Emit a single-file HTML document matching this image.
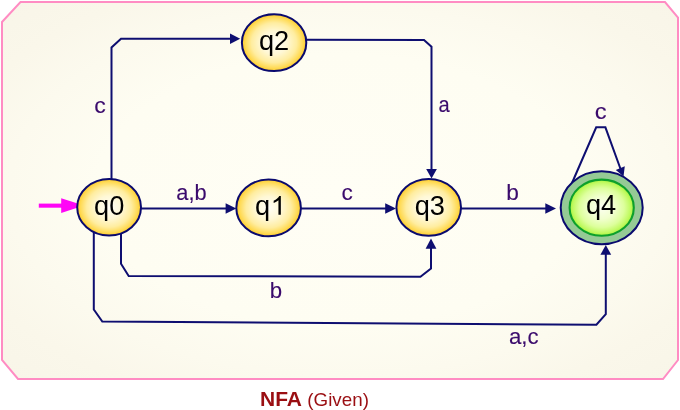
<!DOCTYPE html>
<html>
<head>
<meta charset="utf-8">
<style>
html,body{margin:0;padding:0;background:#ffffff;}
body{width:680px;height:410px;overflow:hidden;position:relative;font-family:"Liberation Sans",sans-serif;}
svg{position:absolute;left:0;top:0;display:block;will-change:transform;opacity:0.999;}
text{font-family:"Liberation Sans",sans-serif;}
.lbl{font-size:21.6px;fill:#3a0a6c;stroke:#3a0a6c;stroke-width:0.12px;}
.st{font-size:27.7px;fill:#000000;}
</style>
</head>
<body>
<svg width="680" height="410" viewBox="0 0 680 410">
  <defs>
    <radialGradient id="bg" cx="0.5" cy="0.5" r="0.72">
      <stop offset="0" stop-color="#fffef5"/>
      <stop offset="0.5" stop-color="#fefdf2"/>
      <stop offset="0.68" stop-color="#fcfaee"/>
      <stop offset="0.82" stop-color="#faf7ea"/>
      <stop offset="1" stop-color="#f8f5e8"/>
    </radialGradient>
    <radialGradient id="gy" cx="0.5" cy="0.5" r="0.5">
      <stop offset="0" stop-color="#fffef6"/>
      <stop offset="0.4" stop-color="#fff8d6"/>
      <stop offset="0.7" stop-color="#ffeda0"/>
      <stop offset="0.9" stop-color="#ffda54"/>
      <stop offset="1" stop-color="#fdca28"/>
    </radialGradient>
    <radialGradient id="gg" cx="0.5" cy="0.5" r="0.5">
      <stop offset="0" stop-color="#fcfff0"/>
      <stop offset="0.4" stop-color="#f1ffcf"/>
      <stop offset="0.7" stop-color="#ddff9c"/>
      <stop offset="0.9" stop-color="#c0fa60"/>
      <stop offset="1" stop-color="#a8f33a"/>
    </radialGradient>
  </defs>

  <!-- frame -->
  <polygon points="2,22 20.5,2 665,2 678,17.5 678,360 663,379 18,379 2,360" fill="url(#bg)" stroke="#ff8cc3" stroke-width="2" stroke-linejoin="miter"/>

  <!-- edges -->
  <g fill="none" stroke="#0e0e70" stroke-width="2" stroke-linejoin="miter">
    <!-- q0 -> q2 -->
    <polyline points="111.5,182 111.5,47.5 121,38.7 231,38.7"/>
    <!-- q2 -> q3 -->
    <polyline points="306,39.8 424,40 431.5,46.7 431.5,170"/>
    <!-- q0 -> q1 -->
    <line x1="141" y1="208.5" x2="226" y2="208.5"/>
    <!-- q1 -> q3 -->
    <line x1="301" y1="208.5" x2="386" y2="208.5"/>
    <!-- q3 -> q4 -->
    <line x1="461" y1="208.4" x2="546" y2="208.4"/>
    <!-- q0 -> q3 (b) -->
    <polyline points="121,232 121,263.8 128.7,276 420.4,276.8 431,268.6 431,248"/>
    <!-- q0 -> q4 (a,c) -->
    <polyline points="93.8,228 93.8,309.5 102.3,321.5 596.4,324.7 605.8,314.2 605.8,254"/>
    <!-- q4 loop -->
    <polyline points="572,183 596.2,127.3 605.4,127.3 620.9,170"/>
  </g>
  <!-- arrowheads -->
  <g fill="#0e0e70" stroke="none">
    <polygon points="240.2,38.8 230,33.6 230,44"/>
    <polygon points="431.5,178.6 426.2,169 436.9,169"/>
    <polygon points="236.3,208.5 225.6,203.2 225.6,213.8"/>
    <polygon points="396,208.5 385.2,203.2 385.2,213.8"/>
    <polygon points="556,208.4 545.3,203.2 545.3,213.7"/>
    <polygon points="431,238.6 425.6,248.7 436.4,248.7"/>
    <polygon points="605.8,245 600.4,254.8 611.2,254.8"/>
    <polygon points="623.5,176.4 615.8,170 624.8,166.2"/>
  </g>

  <!-- start arrow -->
  <line x1="38.8" y1="205.65" x2="63" y2="205.65" stroke="#ff06f6" stroke-width="4.1"/>
  <polygon points="84,205.6 61.2,198.2 61.2,213" fill="#ff06f6"/>

  <!-- nodes -->
  <g stroke="#0a0a6e" stroke-width="2">
    <ellipse cx="109.1" cy="207.3" rx="31.9" ry="28.3" fill="url(#gy)"/>
    <ellipse cx="268.6" cy="207.9" rx="32.3" ry="28.4" fill="url(#gy)"/>
    <ellipse cx="274.1" cy="42.7" rx="32.2" ry="28.4" fill="url(#gy)"/>
    <ellipse cx="428.7" cy="207.4" rx="32.3" ry="28.4" fill="url(#gy)"/>
    <ellipse cx="601.7" cy="207.8" rx="41" ry="36.5" fill="#95ca95"/>
  </g>
  <ellipse cx="601.7" cy="207.7" rx="32.1" ry="28.1" fill="url(#gg)" stroke="#0da02c" stroke-width="2.1"/>

  <!-- node labels -->
  <g class="st" text-anchor="middle">
    <text transform="translate(109.2 214.6) scale(0.982 1)">q0</text>
    <text text-anchor="start" transform="translate(255.0 214.7) scale(0.982 1)">q</text>
    <path transform="translate(270.7 214.7) scale(0.01328 -0.0127)" d="M763 0 L583 0 L583 1147 Q518 1085 412.5 1023 Q307 961 223 930 L223 1104 Q374 1175 487 1276 Q600 1377 647 1466 L763 1466 Z" fill="#000"/>
    <text transform="translate(274.1 49.8) scale(0.982 1)">q2</text>
    <text transform="translate(429.8 214.6) scale(0.982 1)">q3</text>
    <text transform="translate(601.1 214.3) scale(0.982 1)">q4</text>
  </g>

  <!-- edge labels -->
  <g class="lbl" text-anchor="middle">
    <text transform="translate(100 113) scale(1.07 1)">c</text>
    <text transform="translate(444 111.8) scale(0.93 1)">a</text>
    <text transform="translate(600.6 118.7) scale(1.1 1.05)">c</text>
    <text transform="translate(191.5 199.7) scale(1.01 1)">a,b</text>
    <text transform="translate(347.1 199.8) scale(1.05 1)">c</text>
    <text transform="translate(512.5 199.5) scale(1.05 1)">b</text>
    <text transform="translate(276 298) scale(1.03 1.03)">b</text>
    <text transform="translate(523.8 343.8) scale(1.03 1)">a,c</text>
  </g>

  <!-- caption -->
  <text transform="translate(260 405.9) scale(1.05 1.02)" fill="#9a0e12" font-size="20px" font-weight="bold">NFA</text>
  <text transform="translate(307.3 405.9) scale(1.028 1.01)" fill="#9a0e12" font-size="18.3px">(Given)</text>
</svg>
</body>
</html>
